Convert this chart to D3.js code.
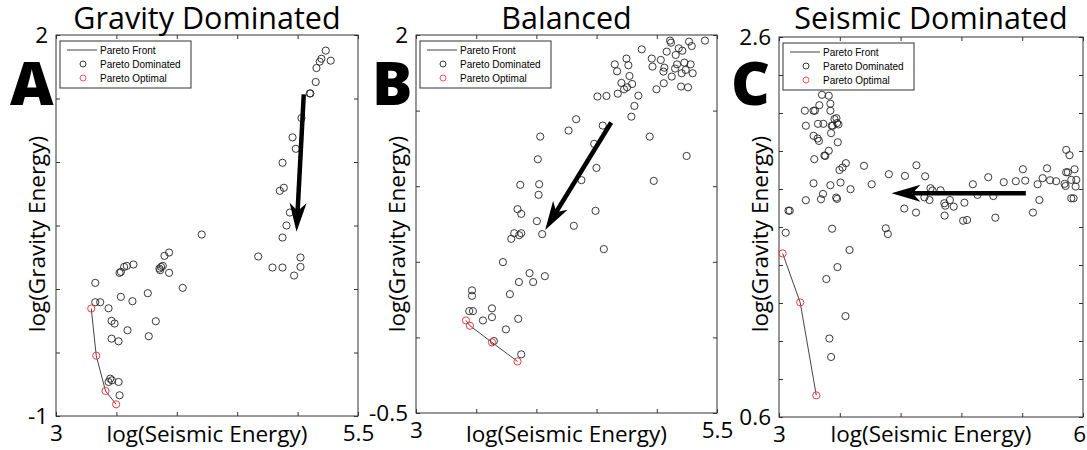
<!DOCTYPE html>
<html>
<head>
<meta charset="utf-8">
<script src="https://cdn.jsdelivr.net/npm/d3@7"></script>
<style>
body { margin: 0; background: #fff; }
svg text { font-family: "Open Sans", sans-serif; fill: #000; }
</style>
</head>
<body>
<script>
var width = 1087
var height = 450

var panelTitles = ["Gravity Dominated", "Balanced", "Seismic Dominated"]
var panelLetters = ["A", "B", "C"]
var xLabel = "log(Seismic Energy)"
var yLabel = "log(Gravity Energy)"
var legendLabels = ["Pareto Front", "Pareto Dominated", "Pareto Optimal"]

// axis ticks (only first and last get a label)
var xTicksA = [3, 3.5, 4, 4.5, 5, 5.5]
var yTicksA = [-1, -0.5, 0, 0.5, 1, 1.5, 2]
var xTicksB = [3, 3.5, 4, 4.5, 5, 5.5]
var yTicksB = [-0.5, 0, 0.5, 1, 1.5, 2]
var xTicksC = [3, 3.6, 4.2, 4.8, 5.4, 6]
var yTicksC = [0.6, 0.8, 1, 1.2, 1.4, 1.6, 1.8, 2, 2.2, 2.4, 2.6]

// [log seismic, log gravity]
var gravityOptimal = [[3.292, -0.154], [3.333, -0.525], [3.410, -0.803], [3.498, -0.908]]
var gravityDominated = [
  [3.325, 0.048], [3.325, -0.104], [3.366, -0.104], [3.435, -0.152], [3.460, -0.251], [3.485, -0.272],
  [3.460, -0.391], [3.518, -0.412], [3.537, -0.062], [3.526, 0.127], [3.537, 0.135], [3.564, 0.174],
  [3.586, 0.182], [3.641, 0.193], [3.592, -0.325], [3.633, -0.096], [3.760, -0.033], [3.826, -0.254],
  [3.768, -0.372], [4.049, 0.009], [4.206, 0.429], [3.862, 0.148], [3.870, 0.174], [3.884, 0.182],
  [3.856, 0.161], [3.898, 0.261], [3.936, 0.287], [3.936, 0.127], [3.435, -0.732], [3.449, -0.706],
  [3.463, -0.719], [3.518, -0.732], [3.526, -0.837],
  [4.674, 0.256], [4.792, 0.169], [4.875, 0.169], [4.971, 0.106], [5.024, 0.174], [5.024, 0.248],
  [4.875, 0.405], [4.908, 0.500], [4.936, 0.602], [4.853, 0.773], [4.886, 0.797], [4.875, 0.994],
  [4.958, 1.194], [4.985, 1.104], [5.032, 1.346], [5.101, 1.540], [5.106, 1.540], [5.150, 1.630],
  [5.156, 1.740], [5.183, 1.790], [5.197, 1.813], [5.233, 1.877], [5.274, 1.798]
]
var gravityArrow = [[5.051, 1.532], [4.991, 0.450]]

var balancedOptimal = [[3.415, 0.112], [3.448, 0.077], [3.631, -0.033], [3.843, -0.159]]
var balancedDominated = [
  [3.465, 0.311], [3.465, 0.275], [3.442, 0.174], [3.473, 0.174], [3.556, 0.112], [3.631, 0.192],
  [3.631, 0.134], [3.647, -0.024], [3.747, 0.053], [3.874, -0.112], [3.849, 0.123], [3.722, 0.498],
  [3.780, 0.286], [3.855, 0.366], [3.943, 0.425], [3.973, 0.366], [4.070, 0.405], [3.791, 0.652],
  [3.816, 0.689], [3.857, 0.676], [3.874, 0.689], [3.843, 0.848], [3.874, 0.817], [3.866, 1.009],
  [4.004, 0.769], [4.048, 0.683], [4.018, 0.943], [4.023, 1.013], [4.012, 1.178], [4.032, 1.328],
  [4.267, 1.368], [4.330, 1.443], [4.551, 1.401], [4.480, 1.280], [4.499, 1.121], [4.374, 1.040],
  [4.491, 0.837], [4.311, 0.738], [4.560, 0.584],
  [4.507, 1.593], [4.582, 1.597], [4.651, 1.806], [4.670, 1.760], [4.748, 1.844], [4.764, 1.800],
  [4.773, 1.729], [4.706, 1.683], [4.676, 1.612], [4.728, 1.641], [4.753, 1.654], [4.795, 1.676],
  [4.847, 1.599], [4.814, 1.531], [4.789, 1.460], [4.875, 1.905], [4.941, 1.328], [4.975, 1.035],
  [4.997, 1.641], [5.058, 1.681], [4.958, 1.844], [4.964, 1.791], [5.033, 1.835], [5.063, 1.784],
  [5.082, 1.890], [5.110, 1.963], [5.118, 1.949], [5.157, 1.868], [5.168, 1.806], [5.182, 1.912],
  [5.212, 1.896], [5.229, 1.817], [5.240, 1.769], [5.152, 1.778], [5.124, 1.725], [5.055, 1.758],
  [5.207, 1.747], [5.201, 1.659], [5.259, 1.654], [5.281, 1.806], [5.268, 1.956], [5.290, 1.927],
  [5.298, 1.747], [5.400, 1.963], [5.248, 1.200]
]
var balancedArrow = [[4.621, 1.421], [4.073, 0.711]]

var seismicOptimal = [[3.036, 1.461], [3.209, 1.203], [3.368, 0.714]]
var seismicDominated = [
  [3.255, 2.212], [3.341, 2.212], [3.355, 2.212], [3.398, 2.241], [3.424, 2.296], [3.491, 2.291],
  [3.507, 2.249], [3.507, 2.212], [3.265, 2.133], [3.385, 2.143], [3.438, 2.143], [3.520, 2.133],
  [3.547, 2.168], [3.567, 2.173], [3.573, 2.147], [3.587, 2.140], [3.530, 2.133], [3.514, 2.094],
  [3.341, 2.080], [3.381, 2.066], [3.394, 2.053], [3.580, 2.046], [3.348, 1.957], [3.448, 1.976],
  [3.457, 1.974], [3.491, 2.001], [3.597, 1.900], [3.627, 1.913], [3.660, 1.936], [3.607, 1.834],
  [3.507, 1.820], [3.434, 1.774], [3.414, 1.746], [3.265, 1.741], [3.341, 1.830], [3.564, 1.755],
  [3.573, 1.748], [3.706, 1.799], [3.093, 1.686], [3.106, 1.686], [3.066, 1.570], [3.524, 1.591],
  [3.696, 1.479], [3.577, 1.389], [3.467, 1.326], [3.656, 1.131], [3.497, 1.013], [3.514, 0.916],
  [3.839, 1.922], [3.915, 1.825], [4.054, 1.593], [4.074, 1.563], [4.084, 1.878], [4.243, 1.869],
  [4.236, 1.697], [4.356, 1.925], [4.352, 1.676], [4.442, 1.867], [4.495, 1.804], [4.485, 1.742],
  [4.515, 1.792], [4.594, 1.793], [4.435, 1.756], [4.631, 1.725], [4.641, 1.712], [4.687, 1.742],
  [4.724, 1.707], [4.634, 1.660], [4.830, 1.728], [4.817, 1.633], [4.856, 1.637], [4.913, 1.825],
  [4.959, 1.769], [5.065, 1.862], [5.115, 1.763], [5.135, 1.649], [5.218, 1.836], [5.337, 1.841],
  [5.407, 1.904], [5.430, 1.844], [5.506, 1.676], [5.552, 1.825], [5.569, 1.742], [5.602, 1.857],
  [5.645, 1.909], [5.675, 1.846], [5.735, 1.841], [5.818, 1.827], [5.834, 2.006], [5.867, 1.978],
  [5.834, 1.888], [5.851, 1.888], [5.917, 1.904], [5.934, 1.848], [5.884, 1.848], [5.927, 1.813],
  [5.884, 1.751], [5.907, 1.751], [5.828, 1.816]
]
var seismicArrow = [[5.436, 1.777], [4.110, 1.777]]

var frameColor = "#333"
var dominatedColor = "#222"
var optimalColor = "#f03c3c"
var frontColor = "#444"
var labelSize = "22.5px"

var panels = [
  { left: 56, right: 358, top: 35, bottom: 416, letterX: 10,
    xTicks: xTicksA, yTicks: yTicksA, optimal: gravityOptimal, dominated: gravityDominated, arrow: gravityArrow },
  { left: 416, right: 717, top: 35, bottom: 413, letterX: 372,
    xTicks: xTicksB, yTicks: yTicksB, optimal: balancedOptimal, dominated: balancedDominated, arrow: balancedArrow },
  { left: 779, right: 1083, top: 37, bottom: 417, letterX: 731,
    xTicks: xTicksC, yTicks: yTicksC, optimal: seismicOptimal, dominated: seismicDominated, arrow: seismicArrow }
]

var svg = d3.select("body")
    .append("svg")
    .attr("width", width)
    .attr("height", height)

function endLabels(ticks) {
    return function (d) {
        return (d === ticks[0] || d === ticks[ticks.length - 1]) ? String(d) : ""
    }
}

function styleAxis(sel) {
    sel.select(".domain").remove()
    sel.selectAll("line").attr("stroke", frameColor)
    sel.selectAll("text").style("font-size", labelSize).attr("fill", "#000")
}

// keep the last x label inside the picture
function keepInside(sel) {
    sel.selectAll("text").each(function () {
        var b = this.getBBox()
        var ctm = this.getCTM()
        var right = ctm.e + b.x + b.width
        if (right > width - 1) {
            d3.select(this).attr("x", +d3.select(this).attr("x") - (right - width + 1))
        }
    })
}

function drawArrow(g, x, y, pts) {
    var x0 = x(pts[0][0]), y0 = y(pts[0][1])
    var x1 = x(pts[1][0]), y1 = y(pts[1][1])
    var dx = x1 - x0, dy = y1 - y0
    var len = Math.sqrt(dx * dx + dy * dy)
    var ux = dx / len, uy = dy / len
    var px = -uy, py = ux
    var headLen = 29, headW = 8.5, notch = 21
    var bx = x1 - ux * headLen, by = y1 - uy * headLen
    var nx = x1 - ux * notch, ny = y1 - uy * notch

    g.append("line")
        .attr("x1", x0).attr("y1", y0)
        .attr("x2", nx).attr("y2", ny)
        .attr("stroke", "#000")
        .attr("stroke-width", 4.5)

    g.append("path")
        .attr("d", "M" + x1 + "," + y1 +
            "L" + (bx + px * headW) + "," + (by + py * headW) +
            "L" + nx + "," + ny +
            "L" + (bx - px * headW) + "," + (by - py * headW) + "Z")
        .attr("fill", "#000")
}

panels.forEach(function (p, i) {
    var g = svg.append("g")
    var x = d3.scaleLinear().domain([p.xTicks[0], p.xTicks[p.xTicks.length - 1]]).range([p.left, p.right])
    var y = d3.scaleLinear().domain([p.yTicks[0], p.yTicks[p.yTicks.length - 1]]).range([p.bottom, p.top])

    // box + inward ticks on all four sides
    g.append("rect")
        .attr("x", p.left).attr("y", p.top)
        .attr("width", p.right - p.left).attr("height", p.bottom - p.top)
        .attr("fill", "none")
        .attr("stroke", frameColor)

    g.append("g").attr("transform", "translate(0," + p.bottom + ")")
        .call(d3.axisBottom(x).tickValues(p.xTicks).tickSizeInner(-4).tickSizeOuter(0)
            .tickPadding(9).tickFormat(endLabels(p.xTicks)))
        .call(styleAxis)
        .call(keepInside)
    g.append("g").attr("transform", "translate(0," + p.top + ")")
        .call(d3.axisTop(x).tickValues(p.xTicks).tickSizeInner(-4).tickSizeOuter(0).tickFormat(""))
        .call(styleAxis)
    g.append("g").attr("transform", "translate(" + p.left + ",0)")
        .call(d3.axisLeft(y).tickValues(p.yTicks).tickSizeInner(-4).tickSizeOuter(0)
            .tickPadding(8).tickFormat(endLabels(p.yTicks)))
        .call(styleAxis)
    g.append("g").attr("transform", "translate(" + p.right + ",0)")
        .call(d3.axisRight(y).tickValues(p.yTicks).tickSizeInner(-4).tickSizeOuter(0).tickFormat(""))
        .call(styleAxis)

    // titles and labels
    g.append("text")
        .attr("x", (p.left + p.right) / 2).attr("y", 29)
        .attr("text-anchor", "middle")
        .style("font-size", "30.5px")
        .text(panelTitles[i])

    g.append("text")
        .attr("x", (p.left + p.right) / 2).attr("y", 442)
        .attr("text-anchor", "middle")
        .style("font-size", labelSize)
        .text(xLabel)

    g.append("text")
        .attr("transform", "translate(" + (p.left - 11) + ",234) rotate(-90)")
        .attr("text-anchor", "middle")
        .style("font-size", labelSize)
        .text(yLabel)

    g.append("text")
        .attr("x", p.letterX).attr("y", 105)
        .style("font-size", "60px")
        .style("font-weight", "800")
        .text(panelLetters[i])

    // points
    g.append("g").selectAll("circle")
        .data(p.dominated)
        .enter()
        .append("circle")
        .attr("cx", function (d) { return x(d[0]) })
        .attr("cy", function (d) { return y(d[1]) })
        .attr("r", 3.6)
        .attr("fill", "none")
        .attr("stroke", dominatedColor)
        .attr("stroke-width", 0.9)

    var front = d3.line()
        .x(function (d) { return x(d[0]) })
        .y(function (d) { return y(d[1]) })

    g.append("path")
        .datum(p.optimal)
        .attr("d", front)
        .attr("fill", "none")
        .attr("stroke", frontColor)
        .attr("stroke-width", 1)

    g.append("g").selectAll("circle")
        .data(p.optimal)
        .enter()
        .append("circle")
        .attr("cx", function (d) { return x(d[0]) })
        .attr("cy", function (d) { return y(d[1]) })
        .attr("r", 3.6)
        .attr("fill", "none")
        .attr("stroke", optimalColor)
        .attr("stroke-width", 1)

    drawArrow(g, x, y, p.arrow)

    // legend
    var lg = g.append("g").attr("transform", "translate(" + (p.left + 4) + "," + (p.top + 6) + ")")
    lg.append("rect")
        .attr("width", 131).attr("height", 47)
        .attr("fill", "#fff")
        .attr("stroke", frameColor)
    lg.append("line")
        .attr("x1", 7).attr("x2", 37).attr("y1", 9).attr("y2", 9)
        .attr("stroke", frontColor)
    lg.append("circle").attr("cx", 23).attr("cy", 23).attr("r", 3)
        .attr("fill", "none").attr("stroke", dominatedColor).attr("stroke-width", 0.9)
    lg.append("circle").attr("cx", 23).attr("cy", 37).attr("r", 3)
        .attr("fill", "none").attr("stroke", "#f55").attr("stroke-width", 1)
    lg.selectAll(".lgtext")
        .data(legendLabels)
        .enter()
        .append("text")
        .attr("class", "lgtext")
        .attr("x", 40)
        .attr("y", function (d, k) { return 9 + k * 14 })
        .attr("dy", "0.35em")
        .style("font-family", "'Liberation Sans', Arial, sans-serif")
        .style("font-size", "10px")
        .text(function (d) { return d })
})
</script>
</body>
</html>
